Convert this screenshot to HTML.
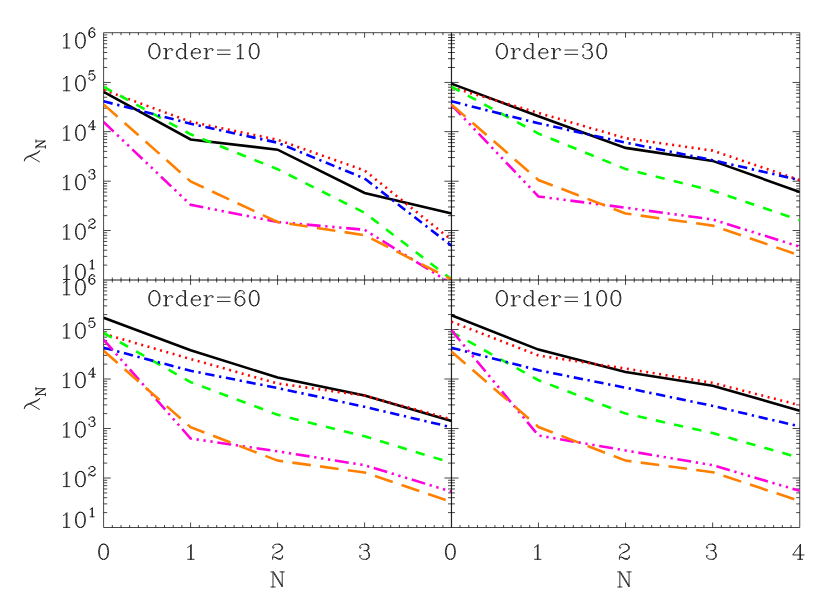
<!DOCTYPE html>
<html><head><meta charset="utf-8"><title>plot</title>
<style>html,body{margin:0;padding:0;background:#fff;font-family:"Liberation Sans",sans-serif}svg{display:block}</style></head>
<body>
<svg width="830" height="593" viewBox="0 0 830 593">
<rect width="830" height="593" fill="#fff"/>
<defs>
<path id="g48" vector-effect="non-scaling-stroke" d="M9 -21 11 -21 13 -20 14 -19 15 -17 16 -12 16 -9 15 -4 14 -2 13 -1 11 0 14 -1 16 -4 17 -9 17 -12 16 -17 14 -20 11 -21M9 -21 6 -20 4 -17 3 -12 3 -9 4 -4 6 -1 9 0 7 -1 6 -2 5 -4 4 -9 4 -12 5 -17 6 -19 7 -20 9 -21M9 0 11 0"/>
<path id="g49" vector-effect="non-scaling-stroke" d="M10 -19.5 11 -20.5 11 0 10 0 10 -19.5 8 -17.6 6 -16.6M10 0 6 0M11 0 15 0"/>
<path id="g50" vector-effect="non-scaling-stroke" d="M12 -21 8 -21 5 -20 4 -19 3 -17 3 -16 4 -15 5 -16 4 -17M12 -21 14 -20 15 -19 16 -17 16 -15 15 -13 12 -11 8 -9 13 -11 16 -13 17 -15 17 -17 16 -19 15 -20 12 -21M8 -9 6 -8 4 -6 3 -3 3 -2 4 -3 6 -3 11 -1 14 -1 16 -2 17 -3 17 -5M17 -3 16 -1 15 0 11 0 6 -3M3 -2 3 0"/>
<path id="g51" vector-effect="non-scaling-stroke" d="M12 -21 8 -21 5 -20 4 -19 3 -17 3 -16 4 -15 5 -16 4 -17M12 -21 14 -20 15 -18 15 -15 14 -13 12 -12 15 -13 16 -15 16 -18 15 -20 12 -21M9 -12 12 -12 14 -11 16 -9 17 -7 17 -4 16 -2 15 -1 12 0 14 -1 15 -2 16 -4 16 -7 15 -10M4 -4 5 -5 4 -6 3 -5 3 -4 4 -2 5 -1 8 0 12 0"/>
<path id="g52" vector-effect="non-scaling-stroke" d="M12 -19 12 -6 2 -6 13 -21 13 -6 12 -6 12 0 9 0M18 -6 13 -6 13 0 12 0M13 0 16 0"/>
<path id="g53" vector-effect="non-scaling-stroke" d="M5 -20 10 -20 15 -21 5 -21 3 -11 5 -13 8 -14 11 -14 13 -13 15 -11 16 -8 16 -6 15 -3 13 -1 11 0 14 -1 16 -3 17 -6 17 -8 16 -11 14 -13 11 -14M4 -4 5 -5 4 -6 3 -5 3 -4 4 -2 5 -1 8 0 11 0"/>
<path id="g54" vector-effect="non-scaling-stroke" d="M10 -21 13 -21 15 -20 16 -18 16 -17 15 -16 14 -17 15 -18M10 -21 7 -20 5 -18 4 -16 3 -12 3 -6 4 -3 6 -1 9 0 7 -1 5 -3 4 -6 4 -7 5 -10 7 -12 10 -13 11 -13 13 -12 15 -10 16 -7 16 -6 15 -3 13 -1 11 0 14 -1 16 -3 17 -6 17 -7 16 -10 14 -12 11 -13M10 -21 8 -20 6 -18 5 -16 4 -12 4 -7M9 0 11 0"/>
<path id="g79" vector-effect="non-scaling-stroke" d="M10 -21 12 -21 14 -20 16 -18 17 -16 18 -12 18 -9 17 -5 16 -3 14 -1 12 0 15 -1 17 -3 18 -5 19 -9 19 -12 18 -16 17 -18 15 -20 12 -21M10 -21 7 -20 5 -18 4 -16 3 -12 3 -9 4 -5 5 -3 7 -1 10 0 8 -1 6 -3 5 -5 4 -9 4 -12 5 -16 6 -18 8 -20 10 -21M10 0 12 0"/>
<path id="g114" vector-effect="non-scaling-stroke" d="M2 -14 6 -14 6 -8 7 -11 9 -13 11 -14 14 -14 15 -13 15 -12 14 -11 13 -12 14 -13M5 -14 5 0 2 0M6 -8 6 0 5 0M6 0 9 0"/>
<path id="g100" vector-effect="non-scaling-stroke" d="M12 -21 16 -21 16 0 15 0 15 -11 13 -13 11 -14 9 -14 6 -13 4 -11 3 -8 3 -6 4 -3 6 -1 9 0 7 -1 5 -3 4 -6 4 -8 5 -11 7 -13 9 -14M15 -21 15 -11M15 -3 13 -1 11 0 9 0M16 0 19 0"/>
<path id="g101" vector-effect="non-scaling-stroke" d="M9 -14 12 -14 14 -13 15 -12 16 -10 16 -8 15 -8 15 -11 14 -13M9 -14 6 -13 4 -11 3 -8 3 -6 4 -3 6 -1 9 0 7 -1 5 -3 4 -6 4 -8 5 -11 7 -13 9 -14M4 -8 15 -8M16 -3 14 -1 11 0 9 0"/>
<path id="g61" vector-effect="non-scaling-stroke" d="M4 -12 22 -12M4 -6 22 -6"/>
<path id="g78" vector-effect="non-scaling-stroke" d="M2 -21 6 -21 18 -2 18 -21 15 -21M5 -21 5 0 2 0M18 -2 18 0 6 -19M18 -21 21 -21M5 0 8 0"/>
<path id="glam" vector-effect="non-scaling-stroke" d="M0.76 -15.3 2.28 -14.8 3.54 -13.8 4.56 -12 5.47 -9.5 6.68 -6.45 8.2 -2.9 9.36 -1.14 10.88 0M2.28 -14.8 3.9 -14.2 5.2 -12.3 6.1 -9.8 7.3 -6.7 8.8 -3.1 9.8 -1.3 10.88 0M5.31 -9.2 0 -0.13"/>
<clipPath id="cTL"><rect x="103.6" y="32.7" width="348" height="247.3"/></clipPath>
<clipPath id="cTR"><rect x="451.35" y="32.7" width="348.4" height="247.3"/></clipPath>
<clipPath id="cBL"><rect x="103.6" y="280" width="348" height="247.5"/></clipPath>
<clipPath id="cBR"><rect x="451.35" y="280" width="348.4" height="247.5"/></clipPath>
</defs>
<path d="M103.6 280V32.7H451.6V280M112.3 280L112.3 277.5M112.3 32.7L112.3 35.2M121 280L121 277.5M121 32.7L121 35.2M129.7 280L129.7 277.5M129.7 32.7L129.7 35.2M138.4 280L138.4 277.5M138.4 32.7L138.4 35.2M147.1 280L147.1 277.5M147.1 32.7L147.1 35.2M155.8 280L155.8 277.5M155.8 32.7L155.8 35.2M164.5 280L164.5 277.5M164.5 32.7L164.5 35.2M173.2 280L173.2 277.5M173.2 32.7L173.2 35.2M181.9 280L181.9 277.5M181.9 32.7L181.9 35.2M190.6 280L190.6 275M190.6 32.7L190.6 37.7M199.3 280L199.3 277.5M199.3 32.7L199.3 35.2M208 280L208 277.5M208 32.7L208 35.2M216.7 280L216.7 277.5M216.7 32.7L216.7 35.2M225.4 280L225.4 277.5M225.4 32.7L225.4 35.2M234.1 280L234.1 277.5M234.1 32.7L234.1 35.2M242.8 280L242.8 277.5M242.8 32.7L242.8 35.2M251.5 280L251.5 277.5M251.5 32.7L251.5 35.2M260.2 280L260.2 277.5M260.2 32.7L260.2 35.2M268.9 280L268.9 277.5M268.9 32.7L268.9 35.2M277.6 280L277.6 275M277.6 32.7L277.6 37.7M286.3 280L286.3 277.5M286.3 32.7L286.3 35.2M295 280L295 277.5M295 32.7L295 35.2M303.7 280L303.7 277.5M303.7 32.7L303.7 35.2M312.4 280L312.4 277.5M312.4 32.7L312.4 35.2M321.1 280L321.1 277.5M321.1 32.7L321.1 35.2M329.8 280L329.8 277.5M329.8 32.7L329.8 35.2M338.5 280L338.5 277.5M338.5 32.7L338.5 35.2M347.2 280L347.2 277.5M347.2 32.7L347.2 35.2M355.9 280L355.9 277.5M355.9 32.7L355.9 35.2M364.6 280L364.6 275M364.6 32.7L364.6 37.7M373.3 280L373.3 277.5M373.3 32.7L373.3 35.2M382 280L382 277.5M382 32.7L382 35.2M390.7 280L390.7 277.5M390.7 32.7L390.7 35.2M399.4 280L399.4 277.5M399.4 32.7L399.4 35.2M408.1 280L408.1 277.5M408.1 32.7L408.1 35.2M416.8 280L416.8 277.5M416.8 32.7L416.8 35.2M425.5 280L425.5 277.5M425.5 32.7L425.5 35.2M434.2 280L434.2 277.5M434.2 32.7L434.2 35.2M442.9 280L442.9 277.5M442.9 32.7L442.9 35.2M103.6 265.1L107.2 265.1M451.6 265.1L448 265.1M103.6 256.38L107.2 256.38M451.6 256.38L448 256.38M103.6 250.2L107.2 250.2M451.6 250.2L448 250.2M103.6 245.4L107.2 245.4M451.6 245.4L448 245.4M103.6 241.48L107.2 241.48M451.6 241.48L448 241.48M103.6 238.17L107.2 238.17M451.6 238.17L448 238.17M103.6 235.3L107.2 235.3M451.6 235.3L448 235.3M103.6 232.76L107.2 232.76M451.6 232.76L448 232.76M103.6 230.5L110.8 230.5M451.6 230.5L444.4 230.5M103.6 215.66L107.2 215.66M451.6 215.66L448 215.66M103.6 206.98L107.2 206.98M451.6 206.98L448 206.98M103.6 200.82L107.2 200.82M451.6 200.82L448 200.82M103.6 196.04L107.2 196.04M451.6 196.04L448 196.04M103.6 192.14L107.2 192.14M451.6 192.14L448 192.14M103.6 188.84L107.2 188.84M451.6 188.84L448 188.84M103.6 185.98L107.2 185.98M451.6 185.98L448 185.98M103.6 183.46L107.2 183.46M451.6 183.46L448 183.46M103.6 181.2L110.8 181.2M451.6 181.2L444.4 181.2M103.6 166.28L107.2 166.28M451.6 166.28L448 166.28M103.6 157.56L107.2 157.56M451.6 157.56L448 157.56M103.6 151.37L107.2 151.37M451.6 151.37L448 151.37M103.6 146.57L107.2 146.57M451.6 146.57L448 146.57M103.6 142.64L107.2 142.64M451.6 142.64L448 142.64M103.6 139.33L107.2 139.33M451.6 139.33L448 139.33M103.6 136.45L107.2 136.45M451.6 136.45L448 136.45M103.6 133.92L107.2 133.92M451.6 133.92L448 133.92M103.6 131.65L110.8 131.65M451.6 131.65L444.4 131.65M103.6 116.84L107.2 116.84M451.6 116.84L448 116.84M103.6 108.18L107.2 108.18M451.6 108.18L448 108.18M103.6 102.03L107.2 102.03M451.6 102.03L448 102.03M103.6 97.26L107.2 97.26M451.6 97.26L448 97.26M103.6 93.36L107.2 93.36M451.6 93.36L448 93.36M103.6 90.07L107.2 90.07M451.6 90.07L448 90.07M103.6 87.22L107.2 87.22M451.6 87.22L448 87.22M103.6 84.7L107.2 84.7M451.6 84.7L448 84.7M103.6 82.45L110.8 82.45M451.6 82.45L444.4 82.45M103.6 67.47L107.2 67.47M451.6 67.47L448 67.47M103.6 58.71L107.2 58.71M451.6 58.71L448 58.71M103.6 52.5L107.2 52.5M451.6 52.5L448 52.5M103.6 47.68L107.2 47.68M451.6 47.68L448 47.68M103.6 43.74L107.2 43.74M451.6 43.74L448 43.74M103.6 40.41L107.2 40.41M451.6 40.41L448 40.41M103.6 37.52L107.2 37.52M451.6 37.52L448 37.52M103.6 34.98L107.2 34.98M451.6 34.98L448 34.98" fill="none" stroke="#000" stroke-width="0.72"/>
<path d="M103.6 280H451.6" fill="none" stroke="#000" stroke-width="0.3"/>
<g clip-path="url(#cTL)" fill="none" stroke-width="2.6" stroke-linejoin="miter">
<polyline points="103.6,91.9 190.6,139.5 277.6,149.7 364.6,192.9 451.6,213.6" stroke="#000"/>
<polyline points="103.6,89.9 190.6,121.8 277.6,139.8 364.6,170.5 451.6,240" stroke="#ff0000" stroke-dasharray="1.96 4.57"/>
<polyline points="103.6,86.8 190.6,134.3 277.6,169.2 364.6,212.8 451.6,279.4" stroke="#00ff00" stroke-dasharray="9.33 9.33"/>
<polyline points="103.6,101.3 190.6,123.7 277.6,142.7 364.6,178.5 451.6,245.8" stroke="#0000ff" stroke-dasharray="9.33 4.67 2.33 4.67"/>
<polyline points="103.6,122 190.6,204.8 277.6,222 364.6,229.8 451.6,283.8" stroke="#ff00dc" stroke-dasharray="13.99 4.67 2.33 4.67 2.33 4.67 2.33 4.67"/>
<polyline points="103.6,104.4 190.6,181.4 277.6,222 364.6,235.2 451.6,279.4" stroke="#ff8000" stroke-dasharray="18.66 9.33"/>
</g>
<path d="M451.35 280V32.7H799.75V280M460.06 280L460.06 277.5M460.06 32.7L460.06 35.2M468.77 280L468.77 277.5M468.77 32.7L468.77 35.2M477.48 280L477.48 277.5M477.48 32.7L477.48 35.2M486.19 280L486.19 277.5M486.19 32.7L486.19 35.2M494.9 280L494.9 277.5M494.9 32.7L494.9 35.2M503.61 280L503.61 277.5M503.61 32.7L503.61 35.2M512.32 280L512.32 277.5M512.32 32.7L512.32 35.2M521.03 280L521.03 277.5M521.03 32.7L521.03 35.2M529.74 280L529.74 277.5M529.74 32.7L529.74 35.2M538.45 280L538.45 275M538.45 32.7L538.45 37.7M547.16 280L547.16 277.5M547.16 32.7L547.16 35.2M555.87 280L555.87 277.5M555.87 32.7L555.87 35.2M564.58 280L564.58 277.5M564.58 32.7L564.58 35.2M573.29 280L573.29 277.5M573.29 32.7L573.29 35.2M582 280L582 277.5M582 32.7L582 35.2M590.71 280L590.71 277.5M590.71 32.7L590.71 35.2M599.42 280L599.42 277.5M599.42 32.7L599.42 35.2M608.13 280L608.13 277.5M608.13 32.7L608.13 35.2M616.84 280L616.84 277.5M616.84 32.7L616.84 35.2M625.55 280L625.55 275M625.55 32.7L625.55 37.7M634.26 280L634.26 277.5M634.26 32.7L634.26 35.2M642.97 280L642.97 277.5M642.97 32.7L642.97 35.2M651.68 280L651.68 277.5M651.68 32.7L651.68 35.2M660.39 280L660.39 277.5M660.39 32.7L660.39 35.2M669.1 280L669.1 277.5M669.1 32.7L669.1 35.2M677.81 280L677.81 277.5M677.81 32.7L677.81 35.2M686.52 280L686.52 277.5M686.52 32.7L686.52 35.2M695.23 280L695.23 277.5M695.23 32.7L695.23 35.2M703.94 280L703.94 277.5M703.94 32.7L703.94 35.2M712.65 280L712.65 275M712.65 32.7L712.65 37.7M721.36 280L721.36 277.5M721.36 32.7L721.36 35.2M730.07 280L730.07 277.5M730.07 32.7L730.07 35.2M738.78 280L738.78 277.5M738.78 32.7L738.78 35.2M747.49 280L747.49 277.5M747.49 32.7L747.49 35.2M756.2 280L756.2 277.5M756.2 32.7L756.2 35.2M764.91 280L764.91 277.5M764.91 32.7L764.91 35.2M773.62 280L773.62 277.5M773.62 32.7L773.62 35.2M782.33 280L782.33 277.5M782.33 32.7L782.33 35.2M791.04 280L791.04 277.5M791.04 32.7L791.04 35.2M451.35 265.1L454.95 265.1M799.75 265.1L796.15 265.1M451.35 256.38L454.95 256.38M799.75 256.38L796.15 256.38M451.35 250.2L454.95 250.2M799.75 250.2L796.15 250.2M451.35 245.4L454.95 245.4M799.75 245.4L796.15 245.4M451.35 241.48L454.95 241.48M799.75 241.48L796.15 241.48M451.35 238.17L454.95 238.17M799.75 238.17L796.15 238.17M451.35 235.3L454.95 235.3M799.75 235.3L796.15 235.3M451.35 232.76L454.95 232.76M799.75 232.76L796.15 232.76M451.35 230.5L458.55 230.5M799.75 230.5L792.55 230.5M451.35 215.66L454.95 215.66M799.75 215.66L796.15 215.66M451.35 206.98L454.95 206.98M799.75 206.98L796.15 206.98M451.35 200.82L454.95 200.82M799.75 200.82L796.15 200.82M451.35 196.04L454.95 196.04M799.75 196.04L796.15 196.04M451.35 192.14L454.95 192.14M799.75 192.14L796.15 192.14M451.35 188.84L454.95 188.84M799.75 188.84L796.15 188.84M451.35 185.98L454.95 185.98M799.75 185.98L796.15 185.98M451.35 183.46L454.95 183.46M799.75 183.46L796.15 183.46M451.35 181.2L458.55 181.2M799.75 181.2L792.55 181.2M451.35 166.28L454.95 166.28M799.75 166.28L796.15 166.28M451.35 157.56L454.95 157.56M799.75 157.56L796.15 157.56M451.35 151.37L454.95 151.37M799.75 151.37L796.15 151.37M451.35 146.57L454.95 146.57M799.75 146.57L796.15 146.57M451.35 142.64L454.95 142.64M799.75 142.64L796.15 142.64M451.35 139.33L454.95 139.33M799.75 139.33L796.15 139.33M451.35 136.45L454.95 136.45M799.75 136.45L796.15 136.45M451.35 133.92L454.95 133.92M799.75 133.92L796.15 133.92M451.35 131.65L458.55 131.65M799.75 131.65L792.55 131.65M451.35 116.84L454.95 116.84M799.75 116.84L796.15 116.84M451.35 108.18L454.95 108.18M799.75 108.18L796.15 108.18M451.35 102.03L454.95 102.03M799.75 102.03L796.15 102.03M451.35 97.26L454.95 97.26M799.75 97.26L796.15 97.26M451.35 93.36L454.95 93.36M799.75 93.36L796.15 93.36M451.35 90.07L454.95 90.07M799.75 90.07L796.15 90.07M451.35 87.22L454.95 87.22M799.75 87.22L796.15 87.22M451.35 84.7L454.95 84.7M799.75 84.7L796.15 84.7M451.35 82.45L458.55 82.45M799.75 82.45L792.55 82.45M451.35 67.47L454.95 67.47M799.75 67.47L796.15 67.47M451.35 58.71L454.95 58.71M799.75 58.71L796.15 58.71M451.35 52.5L454.95 52.5M799.75 52.5L796.15 52.5M451.35 47.68L454.95 47.68M799.75 47.68L796.15 47.68M451.35 43.74L454.95 43.74M799.75 43.74L796.15 43.74M451.35 40.41L454.95 40.41M799.75 40.41L796.15 40.41M451.35 37.52L454.95 37.52M799.75 37.52L796.15 37.52M451.35 34.98L454.95 34.98M799.75 34.98L796.15 34.98" fill="none" stroke="#000" stroke-width="0.72"/>
<path d="M451.35 280H799.75" fill="none" stroke="#000" stroke-width="0.3"/>
<g clip-path="url(#cTR)" fill="none" stroke-width="2.6" stroke-linejoin="miter">
<polyline points="451.35,83.6 538.45,116.2 625.55,147.9 712.65,160.9 799.75,192" stroke="#000"/>
<polyline points="451.35,87.4 538.45,112.9 625.55,138.2 712.65,150.6 799.75,180.1" stroke="#ff0000" stroke-dasharray="1.96 4.57"/>
<polyline points="451.35,86.7 538.45,133.6 625.55,169 712.65,190.7 799.75,220.2" stroke="#00ff00" stroke-dasharray="9.33 9.33"/>
<polyline points="451.35,101.3 538.45,123.3 625.55,142.6 712.65,160.2 799.75,180.1" stroke="#0000ff" stroke-dasharray="9.33 4.67 2.33 4.67"/>
<polyline points="451.35,104.8 538.45,196.5 625.55,207.7 712.65,219.5 799.75,246.7" stroke="#ff00dc" stroke-dasharray="13.99 4.67 2.33 4.67 2.33 4.67 2.33 4.67"/>
<polyline points="451.35,104.4 538.45,180 625.55,213.5 712.65,225.6 799.75,255.4" stroke="#ff8000" stroke-dasharray="18.66 9.33"/>
</g>
<path d="M103.6 280H451.6V527.5H103.6ZM112.3 527.5L112.3 525M112.3 280L112.3 282.5M121 527.5L121 525M121 280L121 282.5M129.7 527.5L129.7 525M129.7 280L129.7 282.5M138.4 527.5L138.4 525M138.4 280L138.4 282.5M147.1 527.5L147.1 525M147.1 280L147.1 282.5M155.8 527.5L155.8 525M155.8 280L155.8 282.5M164.5 527.5L164.5 525M164.5 280L164.5 282.5M173.2 527.5L173.2 525M173.2 280L173.2 282.5M181.9 527.5L181.9 525M181.9 280L181.9 282.5M190.6 527.5L190.6 522.5M190.6 280L190.6 285M199.3 527.5L199.3 525M199.3 280L199.3 282.5M208 527.5L208 525M208 280L208 282.5M216.7 527.5L216.7 525M216.7 280L216.7 282.5M225.4 527.5L225.4 525M225.4 280L225.4 282.5M234.1 527.5L234.1 525M234.1 280L234.1 282.5M242.8 527.5L242.8 525M242.8 280L242.8 282.5M251.5 527.5L251.5 525M251.5 280L251.5 282.5M260.2 527.5L260.2 525M260.2 280L260.2 282.5M268.9 527.5L268.9 525M268.9 280L268.9 282.5M277.6 527.5L277.6 522.5M277.6 280L277.6 285M286.3 527.5L286.3 525M286.3 280L286.3 282.5M295 527.5L295 525M295 280L295 282.5M303.7 527.5L303.7 525M303.7 280L303.7 282.5M312.4 527.5L312.4 525M312.4 280L312.4 282.5M321.1 527.5L321.1 525M321.1 280L321.1 282.5M329.8 527.5L329.8 525M329.8 280L329.8 282.5M338.5 527.5L338.5 525M338.5 280L338.5 282.5M347.2 527.5L347.2 525M347.2 280L347.2 282.5M355.9 527.5L355.9 525M355.9 280L355.9 282.5M364.6 527.5L364.6 522.5M364.6 280L364.6 285M373.3 527.5L373.3 525M373.3 280L373.3 282.5M382 527.5L382 525M382 280L382 282.5M390.7 527.5L390.7 525M390.7 280L390.7 282.5M399.4 527.5L399.4 525M399.4 280L399.4 282.5M408.1 527.5L408.1 525M408.1 280L408.1 282.5M416.8 527.5L416.8 525M416.8 280L416.8 282.5M425.5 527.5L425.5 525M425.5 280L425.5 282.5M434.2 527.5L434.2 525M434.2 280L434.2 282.5M442.9 527.5L442.9 525M442.9 280L442.9 282.5M103.6 512.6L107.2 512.6M451.6 512.6L448 512.6M103.6 503.88L107.2 503.88M451.6 503.88L448 503.88M103.6 497.7L107.2 497.7M451.6 497.7L448 497.7M103.6 492.9L107.2 492.9M451.6 492.9L448 492.9M103.6 488.98L107.2 488.98M451.6 488.98L448 488.98M103.6 485.67L107.2 485.67M451.6 485.67L448 485.67M103.6 482.8L107.2 482.8M451.6 482.8L448 482.8M103.6 480.26L107.2 480.26M451.6 480.26L448 480.26M103.6 478L110.8 478M451.6 478L444.4 478M103.6 463.1L107.2 463.1M451.6 463.1L448 463.1M103.6 454.38L107.2 454.38M451.6 454.38L448 454.38M103.6 448.2L107.2 448.2M451.6 448.2L448 448.2M103.6 443.4L107.2 443.4M451.6 443.4L448 443.4M103.6 439.48L107.2 439.48M451.6 439.48L448 439.48M103.6 436.17L107.2 436.17M451.6 436.17L448 436.17M103.6 433.3L107.2 433.3M451.6 433.3L448 433.3M103.6 430.76L107.2 430.76M451.6 430.76L448 430.76M103.6 428.5L110.8 428.5M451.6 428.5L444.4 428.5M103.6 413.6L107.2 413.6M451.6 413.6L448 413.6M103.6 404.88L107.2 404.88M451.6 404.88L448 404.88M103.6 398.7L107.2 398.7M451.6 398.7L448 398.7M103.6 393.9L107.2 393.9M451.6 393.9L448 393.9M103.6 389.98L107.2 389.98M451.6 389.98L448 389.98M103.6 386.67L107.2 386.67M451.6 386.67L448 386.67M103.6 383.8L107.2 383.8M451.6 383.8L448 383.8M103.6 381.26L107.2 381.26M451.6 381.26L448 381.26M103.6 379L110.8 379M451.6 379L444.4 379M103.6 364.1L107.2 364.1M451.6 364.1L448 364.1M103.6 355.38L107.2 355.38M451.6 355.38L448 355.38M103.6 349.2L107.2 349.2M451.6 349.2L448 349.2M103.6 344.4L107.2 344.4M451.6 344.4L448 344.4M103.6 340.48L107.2 340.48M451.6 340.48L448 340.48M103.6 337.17L107.2 337.17M451.6 337.17L448 337.17M103.6 334.3L107.2 334.3M451.6 334.3L448 334.3M103.6 331.76L107.2 331.76M451.6 331.76L448 331.76M103.6 329.5L110.8 329.5M451.6 329.5L444.4 329.5M103.6 314.6L107.2 314.6M451.6 314.6L448 314.6M103.6 305.88L107.2 305.88M451.6 305.88L448 305.88M103.6 299.7L107.2 299.7M451.6 299.7L448 299.7M103.6 294.9L107.2 294.9M451.6 294.9L448 294.9M103.6 290.98L107.2 290.98M451.6 290.98L448 290.98M103.6 287.67L107.2 287.67M451.6 287.67L448 287.67M103.6 284.8L107.2 284.8M451.6 284.8L448 284.8M103.6 282.26L107.2 282.26M451.6 282.26L448 282.26" fill="none" stroke="#000" stroke-width="0.72"/>
<g clip-path="url(#cBL)" fill="none" stroke-width="2.6" stroke-linejoin="miter">
<polyline points="103.6,317.7 190.6,350.3 277.6,377.5 364.6,395.6 451.6,420.9" stroke="#000"/>
<polyline points="103.6,333.8 190.6,359 277.6,383.5 364.6,395.6 451.6,419.3" stroke="#ff0000" stroke-dasharray="1.96 4.57"/>
<polyline points="103.6,333 190.6,382.1 277.6,414.8 364.6,436.3 451.6,462.9" stroke="#00ff00" stroke-dasharray="9.33 9.33"/>
<polyline points="103.6,347.7 190.6,370.8 277.6,388 364.6,406.8 451.6,427.3" stroke="#0000ff" stroke-dasharray="9.33 4.67 2.33 4.67"/>
<polyline points="103.6,339.7 190.6,438.5 277.6,451.3 364.6,465.2 451.6,491.7" stroke="#ff00dc" stroke-dasharray="13.99 4.67 2.33 4.67 2.33 4.67 2.33 4.67"/>
<polyline points="103.6,350.7 190.6,427.2 277.6,460.6 364.6,472.5 451.6,502" stroke="#ff8000" stroke-dasharray="18.66 9.33"/>
</g>
<path d="M451.35 280H799.75V527.5H451.35ZM460.06 527.5L460.06 525M460.06 280L460.06 282.5M468.77 527.5L468.77 525M468.77 280L468.77 282.5M477.48 527.5L477.48 525M477.48 280L477.48 282.5M486.19 527.5L486.19 525M486.19 280L486.19 282.5M494.9 527.5L494.9 525M494.9 280L494.9 282.5M503.61 527.5L503.61 525M503.61 280L503.61 282.5M512.32 527.5L512.32 525M512.32 280L512.32 282.5M521.03 527.5L521.03 525M521.03 280L521.03 282.5M529.74 527.5L529.74 525M529.74 280L529.74 282.5M538.45 527.5L538.45 522.5M538.45 280L538.45 285M547.16 527.5L547.16 525M547.16 280L547.16 282.5M555.87 527.5L555.87 525M555.87 280L555.87 282.5M564.58 527.5L564.58 525M564.58 280L564.58 282.5M573.29 527.5L573.29 525M573.29 280L573.29 282.5M582 527.5L582 525M582 280L582 282.5M590.71 527.5L590.71 525M590.71 280L590.71 282.5M599.42 527.5L599.42 525M599.42 280L599.42 282.5M608.13 527.5L608.13 525M608.13 280L608.13 282.5M616.84 527.5L616.84 525M616.84 280L616.84 282.5M625.55 527.5L625.55 522.5M625.55 280L625.55 285M634.26 527.5L634.26 525M634.26 280L634.26 282.5M642.97 527.5L642.97 525M642.97 280L642.97 282.5M651.68 527.5L651.68 525M651.68 280L651.68 282.5M660.39 527.5L660.39 525M660.39 280L660.39 282.5M669.1 527.5L669.1 525M669.1 280L669.1 282.5M677.81 527.5L677.81 525M677.81 280L677.81 282.5M686.52 527.5L686.52 525M686.52 280L686.52 282.5M695.23 527.5L695.23 525M695.23 280L695.23 282.5M703.94 527.5L703.94 525M703.94 280L703.94 282.5M712.65 527.5L712.65 522.5M712.65 280L712.65 285M721.36 527.5L721.36 525M721.36 280L721.36 282.5M730.07 527.5L730.07 525M730.07 280L730.07 282.5M738.78 527.5L738.78 525M738.78 280L738.78 282.5M747.49 527.5L747.49 525M747.49 280L747.49 282.5M756.2 527.5L756.2 525M756.2 280L756.2 282.5M764.91 527.5L764.91 525M764.91 280L764.91 282.5M773.62 527.5L773.62 525M773.62 280L773.62 282.5M782.33 527.5L782.33 525M782.33 280L782.33 282.5M791.04 527.5L791.04 525M791.04 280L791.04 282.5M451.35 512.6L454.95 512.6M799.75 512.6L796.15 512.6M451.35 503.88L454.95 503.88M799.75 503.88L796.15 503.88M451.35 497.7L454.95 497.7M799.75 497.7L796.15 497.7M451.35 492.9L454.95 492.9M799.75 492.9L796.15 492.9M451.35 488.98L454.95 488.98M799.75 488.98L796.15 488.98M451.35 485.67L454.95 485.67M799.75 485.67L796.15 485.67M451.35 482.8L454.95 482.8M799.75 482.8L796.15 482.8M451.35 480.26L454.95 480.26M799.75 480.26L796.15 480.26M451.35 478L458.55 478M799.75 478L792.55 478M451.35 463.1L454.95 463.1M799.75 463.1L796.15 463.1M451.35 454.38L454.95 454.38M799.75 454.38L796.15 454.38M451.35 448.2L454.95 448.2M799.75 448.2L796.15 448.2M451.35 443.4L454.95 443.4M799.75 443.4L796.15 443.4M451.35 439.48L454.95 439.48M799.75 439.48L796.15 439.48M451.35 436.17L454.95 436.17M799.75 436.17L796.15 436.17M451.35 433.3L454.95 433.3M799.75 433.3L796.15 433.3M451.35 430.76L454.95 430.76M799.75 430.76L796.15 430.76M451.35 428.5L458.55 428.5M799.75 428.5L792.55 428.5M451.35 413.6L454.95 413.6M799.75 413.6L796.15 413.6M451.35 404.88L454.95 404.88M799.75 404.88L796.15 404.88M451.35 398.7L454.95 398.7M799.75 398.7L796.15 398.7M451.35 393.9L454.95 393.9M799.75 393.9L796.15 393.9M451.35 389.98L454.95 389.98M799.75 389.98L796.15 389.98M451.35 386.67L454.95 386.67M799.75 386.67L796.15 386.67M451.35 383.8L454.95 383.8M799.75 383.8L796.15 383.8M451.35 381.26L454.95 381.26M799.75 381.26L796.15 381.26M451.35 379L458.55 379M799.75 379L792.55 379M451.35 364.1L454.95 364.1M799.75 364.1L796.15 364.1M451.35 355.38L454.95 355.38M799.75 355.38L796.15 355.38M451.35 349.2L454.95 349.2M799.75 349.2L796.15 349.2M451.35 344.4L454.95 344.4M799.75 344.4L796.15 344.4M451.35 340.48L454.95 340.48M799.75 340.48L796.15 340.48M451.35 337.17L454.95 337.17M799.75 337.17L796.15 337.17M451.35 334.3L454.95 334.3M799.75 334.3L796.15 334.3M451.35 331.76L454.95 331.76M799.75 331.76L796.15 331.76M451.35 329.5L458.55 329.5M799.75 329.5L792.55 329.5M451.35 314.6L454.95 314.6M799.75 314.6L796.15 314.6M451.35 305.88L454.95 305.88M799.75 305.88L796.15 305.88M451.35 299.7L454.95 299.7M799.75 299.7L796.15 299.7M451.35 294.9L454.95 294.9M799.75 294.9L796.15 294.9M451.35 290.98L454.95 290.98M799.75 290.98L796.15 290.98M451.35 287.67L454.95 287.67M799.75 287.67L796.15 287.67M451.35 284.8L454.95 284.8M799.75 284.8L796.15 284.8M451.35 282.26L454.95 282.26M799.75 282.26L796.15 282.26" fill="none" stroke="#000" stroke-width="0.72"/>
<g clip-path="url(#cBR)" fill="none" stroke-width="2.6" stroke-linejoin="miter">
<polyline points="451.35,315.3 538.45,349.6 625.55,372 712.65,385.7 799.75,410.7" stroke="#000"/>
<polyline points="451.35,321.7 538.45,355.5 625.55,368.6 712.65,382.8 799.75,405.2" stroke="#ff0000" stroke-dasharray="1.96 4.57"/>
<polyline points="451.35,331.9 538.45,380.2 625.55,413.6 712.65,433.1 799.75,457.8" stroke="#00ff00" stroke-dasharray="9.33 9.33"/>
<polyline points="451.35,347.7 538.45,370.3 625.55,387.7 712.65,405.9 799.75,426.5" stroke="#0000ff" stroke-dasharray="9.33 4.67 2.33 4.67"/>
<polyline points="451.35,330.2 538.45,435.5 625.55,450.5 712.65,465.2 799.75,490.8" stroke="#ff00dc" stroke-dasharray="13.99 4.67 2.33 4.67 2.33 4.67 2.33 4.67"/>
<polyline points="451.35,351.5 538.45,427 625.55,460.6 712.65,472.2 799.75,501" stroke="#ff8000" stroke-dasharray="18.66 9.33"/>
</g>
<g fill="none" stroke="#000" stroke-width="0.8" stroke-linecap="round" stroke-linejoin="round">
<use href="#g49" transform="translate(59.2,48) scale(0.708,0.72)"/>
<use href="#g48" transform="translate(73.36,48) scale(0.708,0.72)"/>
<use href="#g54" transform="translate(87.52,37.4) scale(0.445,0.45)"/>
<use href="#g49" transform="translate(59.2,90.76) scale(0.708,0.72)"/>
<use href="#g48" transform="translate(73.36,90.76) scale(0.708,0.72)"/>
<use href="#g53" transform="translate(87.52,80.16) scale(0.445,0.45)"/>
<use href="#g49" transform="translate(59.2,140.22) scale(0.708,0.72)"/>
<use href="#g48" transform="translate(73.36,140.22) scale(0.708,0.72)"/>
<use href="#g52" transform="translate(87.52,129.62) scale(0.445,0.45)"/>
<use href="#g49" transform="translate(59.2,189.68) scale(0.708,0.72)"/>
<use href="#g48" transform="translate(73.36,189.68) scale(0.708,0.72)"/>
<use href="#g51" transform="translate(87.52,179.08) scale(0.445,0.45)"/>
<use href="#g49" transform="translate(59.2,239.14) scale(0.708,0.72)"/>
<use href="#g48" transform="translate(73.36,239.14) scale(0.708,0.72)"/>
<use href="#g50" transform="translate(87.52,228.54) scale(0.445,0.45)"/>
<use href="#g49" transform="translate(59.2,279.5) scale(0.708,0.72)"/>
<use href="#g48" transform="translate(73.36,279.5) scale(0.708,0.72)"/>
<use href="#g49" transform="translate(87.52,268.9) scale(0.445,0.45)"/>
<use href="#g49" transform="translate(59.2,294.8) scale(0.708,0.72)"/>
<use href="#g48" transform="translate(73.36,294.8) scale(0.708,0.72)"/>
<use href="#g54" transform="translate(87.52,284.2) scale(0.445,0.45)"/>
<use href="#g49" transform="translate(59.2,338.1) scale(0.708,0.72)"/>
<use href="#g48" transform="translate(73.36,338.1) scale(0.708,0.72)"/>
<use href="#g53" transform="translate(87.52,327.5) scale(0.445,0.45)"/>
<use href="#g49" transform="translate(59.2,387.6) scale(0.708,0.72)"/>
<use href="#g48" transform="translate(73.36,387.6) scale(0.708,0.72)"/>
<use href="#g52" transform="translate(87.52,377) scale(0.445,0.45)"/>
<use href="#g49" transform="translate(59.2,437.1) scale(0.708,0.72)"/>
<use href="#g48" transform="translate(73.36,437.1) scale(0.708,0.72)"/>
<use href="#g51" transform="translate(87.52,426.5) scale(0.445,0.45)"/>
<use href="#g49" transform="translate(59.2,486.6) scale(0.708,0.72)"/>
<use href="#g48" transform="translate(73.36,486.6) scale(0.708,0.72)"/>
<use href="#g50" transform="translate(87.52,476) scale(0.445,0.45)"/>
<use href="#g49" transform="translate(59.2,527.4) scale(0.708,0.72)"/>
<use href="#g48" transform="translate(73.36,527.4) scale(0.708,0.72)"/>
<use href="#g49" transform="translate(87.52,516.8) scale(0.445,0.45)"/>
<use href="#g48" transform="translate(96.52,559.3) scale(0.708,0.72)"/>
<use href="#g49" transform="translate(183.52,559.3) scale(0.708,0.72)"/>
<use href="#g50" transform="translate(270.52,559.3) scale(0.708,0.72)"/>
<use href="#g51" transform="translate(357.52,559.3) scale(0.708,0.72)"/>
<use href="#g48" transform="translate(443.32,559.3) scale(0.708,0.72)"/>
<use href="#g49" transform="translate(530.32,559.3) scale(0.708,0.72)"/>
<use href="#g50" transform="translate(617.32,559.3) scale(0.708,0.72)"/>
<use href="#g51" transform="translate(704.32,559.3) scale(0.708,0.72)"/>
<use href="#g52" transform="translate(791.32,559.3) scale(0.708,0.72)"/>
<use href="#g78" transform="translate(269.46,587) scale(0.708,0.72)"/>
<use href="#g78" transform="translate(616.31,587) scale(0.708,0.72)"/>
<use href="#g79" transform="translate(146.6,58.7) scale(0.708,0.72)"/>
<use href="#g114" transform="translate(162.18,58.7) scale(0.708,0.72)"/>
<use href="#g100" transform="translate(174.21,58.7) scale(0.708,0.72)"/>
<use href="#g101" transform="translate(189.08,58.7) scale(0.708,0.72)"/>
<use href="#g114" transform="translate(202.53,58.7) scale(0.708,0.72)"/>
<use href="#g61" transform="translate(214.57,58.7) scale(0.708,0.72)"/>
<use href="#g49" transform="translate(232.98,58.7) scale(0.708,0.72)"/>
<use href="#g48" transform="translate(247.14,58.7) scale(0.708,0.72)"/>
<use href="#g79" transform="translate(494.1,58.7) scale(0.708,0.72)"/>
<use href="#g114" transform="translate(509.68,58.7) scale(0.708,0.72)"/>
<use href="#g100" transform="translate(521.71,58.7) scale(0.708,0.72)"/>
<use href="#g101" transform="translate(536.58,58.7) scale(0.708,0.72)"/>
<use href="#g114" transform="translate(550.03,58.7) scale(0.708,0.72)"/>
<use href="#g61" transform="translate(562.07,58.7) scale(0.708,0.72)"/>
<use href="#g51" transform="translate(580.48,58.7) scale(0.708,0.72)"/>
<use href="#g48" transform="translate(594.64,58.7) scale(0.708,0.72)"/>
<use href="#g79" transform="translate(146.6,305.8) scale(0.708,0.72)"/>
<use href="#g114" transform="translate(162.18,305.8) scale(0.708,0.72)"/>
<use href="#g100" transform="translate(174.21,305.8) scale(0.708,0.72)"/>
<use href="#g101" transform="translate(189.08,305.8) scale(0.708,0.72)"/>
<use href="#g114" transform="translate(202.53,305.8) scale(0.708,0.72)"/>
<use href="#g61" transform="translate(214.57,305.8) scale(0.708,0.72)"/>
<use href="#g54" transform="translate(232.98,305.8) scale(0.708,0.72)"/>
<use href="#g48" transform="translate(247.14,305.8) scale(0.708,0.72)"/>
<use href="#g79" transform="translate(494.1,305.8) scale(0.708,0.72)"/>
<use href="#g114" transform="translate(509.68,305.8) scale(0.708,0.72)"/>
<use href="#g100" transform="translate(521.71,305.8) scale(0.708,0.72)"/>
<use href="#g101" transform="translate(536.58,305.8) scale(0.708,0.72)"/>
<use href="#g114" transform="translate(550.03,305.8) scale(0.708,0.72)"/>
<use href="#g61" transform="translate(562.07,305.8) scale(0.708,0.72)"/>
<use href="#g49" transform="translate(580.48,305.8) scale(0.708,0.72)"/>
<use href="#g48" transform="translate(594.64,305.8) scale(0.708,0.72)"/>
<use href="#g48" transform="translate(608.8,305.8) scale(0.708,0.72)"/>
<g transform="translate(39.6,161.8) rotate(-90)"><use href="#glam"/><use href="#g78" transform="translate(12.7,5.8) scale(0.445,0.45)"/></g>
<g transform="translate(39.6,409.4) rotate(-90)"><use href="#glam"/><use href="#g78" transform="translate(12.7,5.8) scale(0.445,0.45)"/></g>
</g>
</svg>
</body></html>
